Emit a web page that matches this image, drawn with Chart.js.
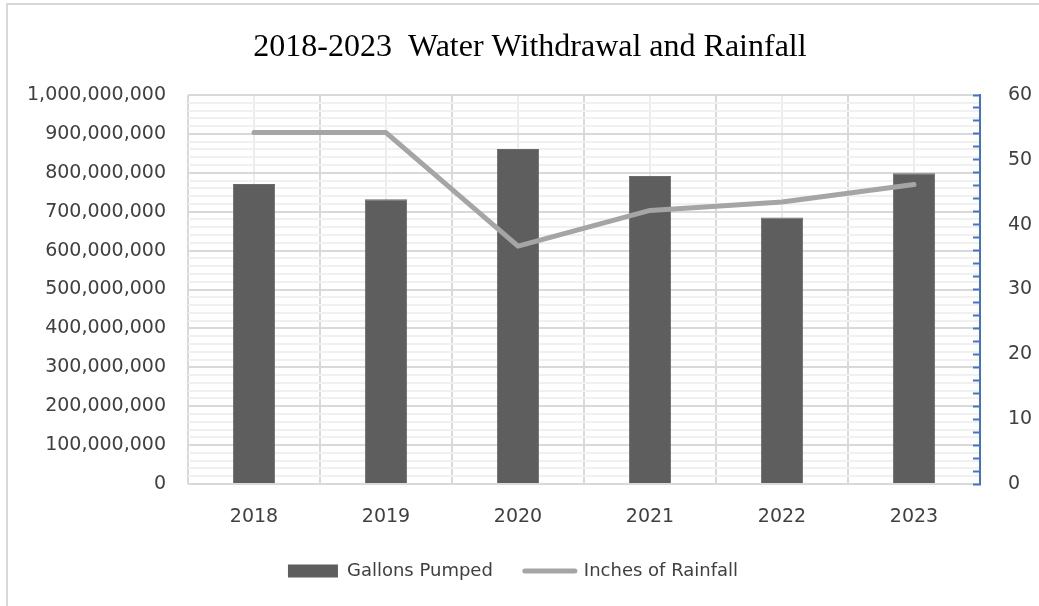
<!DOCTYPE html>
<html>
<head>
<meta charset="utf-8">
<script src="https://cdn.jsdelivr.net/npm/chart.js@4"></script>
<style>
  html, body { margin: 0; padding: 0; background: #fff; }
  #wrap { width: 1039px; height: 606px; }
</style>
</head>
<body>
<div id="wrap"><canvas id="waterChart" width="1039" height="606"></canvas></div>
<script>
// 데이터
const years = ['2018', '2019', '2020', '2021', '2022', '2023'];
const gallonsPumped = [771000000, 732000000, 861000000, 792000000, 685000000, 799000000];
const inchesRainfall = [54.2, 54.2, 36.7, 42.2, 43.5, 46.2];
const leftTicks = [0, 100000000, 200000000, 300000000, 400000000, 500000000, 600000000, 700000000, 800000000, 900000000, 1000000000];
const rightTicks = [0, 10, 20, 30, 40, 50, 60];

const sans = 'DejaVu Sans';
const padLeft = 21;

// 바깥 테두리
const frame = {
  id: 'frame',
  beforeDraw(chart) {
    const c = chart.ctx;
    c.save();
    c.strokeStyle = '#d9d9d9';
    c.lineWidth = 2;
    c.strokeRect(7, 4, 1060, 640);
    c.restore();
  }
};

// 범례 위치를 약간 왼쪽으로
const shiftLegend = {
  id: 'shiftLegend',
  afterLayout(chart) {
    chart.legend.left -= 17;
    chart.legend.right -= 17;
  }
};

const ctx = document.getElementById('waterChart').getContext('2d');
new Chart(ctx, {
  data: {
    labels: years,
    datasets: [
      {
        type: 'bar',
        label: 'Gallons Pumped',
        data: gallonsPumped,
        backgroundColor: '#5e5e5e',
        borderColor: '#6a6a6a',
        borderWidth: 1,
        barPercentage: 0.32,
        categoryPercentage: 1,
        yAxisID: 'y',
        order: 1
      },
      {
        type: 'line',
        label: 'Inches of Rainfall',
        data: inchesRainfall,
        borderColor: '#a5a5a5',
        backgroundColor: '#a5a5a5',
        borderWidth: 5,
        borderCapStyle: 'round',
        borderJoinStyle: 'round',
        pointRadius: 0,
        tension: 0,
        fill: false,
        yAxisID: 'y2',
        order: 0
      }
    ]
  },
  options: {
    responsive: false,
    animation: false,
    layout: { padding: { left: padLeft, right: 0, top: 0, bottom: 16 } },
    plugins: {
      title: {
        display: true,
        text: '2018-2023  Water Withdrawal and Rainfall',
        color: '#000',
        font: { family: 'Liberation Serif', size: 32, weight: 'normal' },
        padding: { top: 28, bottom: 28.6 }
      },
      legend: {
        position: 'bottom',
        labels: {
          color: '#404040',
          font: { family: sans, size: 18 },
          usePointStyle: true,
          pointStyleWidth: 50,
          boxHeight: 13,
          padding: 32,
          sort: (a, b) => a.datasetIndex - b.datasetIndex,
          generateLabels(chart) {
            const items = Chart.defaults.plugins.legend.labels.generateLabels(chart);
            items.forEach(it => {
              if (it.datasetIndex === 0) {
                it.pointStyle = 'rect';
                it.lineWidth = 0;
                it.fillStyle = '#5e5e5e';
              } else {
                it.pointStyle = 'line';
                it.lineWidth = 5;
                it.lineCap = 'round';
                it.strokeStyle = '#a5a5a5';
              }
            });
            return items;
          }
        }
      },
      tooltip: { enabled: false }
    },
    scales: {
      x: {
        type: 'category',
        offset: true,
        grid: { offset: true, color: '#d9d9d9', lineWidth: 2, drawTicks: false },
        border: { display: false },
        ticks: { color: '#404040', font: { family: sans, size: 19 }, padding: 22 },
        afterFit(scale) { scale.height = 46; }
      },
      x2: {
        type: 'category',
        position: 'bottom',
        offset: true,
        grid: { offset: false, color: '#ececec', lineWidth: 2, drawTicks: false },
        border: { display: false },
        ticks: { display: false },
        afterFit(scale) { scale.height = 0; }
      },
      y: {
        position: 'left',
        min: 0,
        max: 1000000000,
        ticks: {
          stepSize: 20000000,
          autoSkip: false,
          color: '#404040',
          font: { family: sans, size: 19 },
          padding: 22,
          callback: v => leftTicks.includes(v) ? v.toLocaleString('en-US') : ''
        },
        grid: {
          drawTicks: false,
          lineWidth: 2,
          color: c => leftTicks.includes(c.tick.value) ? '#d9d9d9' : '#f0f0f0'
        },
        border: { display: false },
        afterFit(scale) { scale.width = 188 - padLeft; }
      },
      y2: {
        position: 'right',
        min: 0,
        max: 60,
        ticks: {
          stepSize: 2,
          autoSkip: false,
          color: '#404040',
          font: { family: sans, size: 19 },
          padding: 35,
          callback: v => rightTicks.includes(v) ? String(v) : ''
        },
        grid: {
          drawOnChartArea: false,
          drawTicks: true,
          tickLength: -7,
          tickWidth: 2,
          tickColor: '#4472c4'
        },
        border: { display: true, color: '#4472c4', width: 2 },
        afterFit(scale) { scale.width = 59; }
      }
    }
  },
  plugins: [frame, shiftLegend]
});
</script>
</body>
</html>
